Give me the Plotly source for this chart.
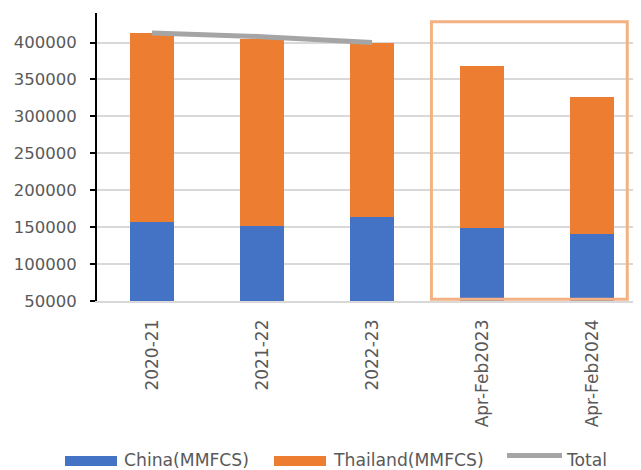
import plotly.graph_objects as go

categories = ["2020-21", "2021-22", "2022-23", "Apr-Feb2023", "Apr-Feb2024"]
china = [156600, 152000, 164200, 149300, 141200]
thailand = [256100, 252500, 235300, 218700, 185600]
total_categories = ["2020-21", "2021-22", "2022-23"]
total = [413000, 408000, 400000]
y_ticks = [50000, 100000, 150000, 200000, 250000, 300000, 350000, 400000]
series_names = ["China(MMFCS)", "Thailand(MMFCS)", "Total"]
series_colors = ["#4472c4", "#ed7d31", "#a5a5a5"]

FONT = "DejaVu Sans"
TXT = "#595959"
OFF = 8  # page body margin
W, H = 641 - OFF, 470 - OFF
L, R, T, B = 97 - OFF, 0, 13 - OFF, 169
PW, PH = W - L - R, H - T - B


def px(x):
    return (x - OFF - L) / PW


def py(y):
    return (H - B - (y - OFF)) / PH


fig = go.Figure()
fig.add_trace(go.Bar(x=categories, y=china, name=series_names[0],
                     marker=dict(color=series_colors[0], line=dict(width=0)), width=0.4))
fig.add_trace(go.Bar(x=categories, y=thailand, name=series_names[1],
                     marker=dict(color=series_colors[1], line=dict(width=0)), width=0.4))
fig.add_trace(go.Scatter(x=total_categories, y=total, name=series_names[2], mode="lines",
                         line=dict(color=series_colors[2], width=5)))

# highlight box
fig.add_shape(type="rect", xref="x", yref="y", x0=2.54, x1=4.32, y0=52300, y1=428000,
              line=dict(color="#f4b183", width=3), fillcolor="rgba(0,0,0,0)", layer="above")

# custom legend (Excel-like wide swatches)
leg_y = 459.5
fig.add_shape(type="rect", xref="paper", yref="paper", x0=px(65), x1=px(117),
              y0=py(466), y1=py(456), fillcolor=series_colors[0], line=dict(width=0))
fig.add_shape(type="rect", xref="paper", yref="paper", x0=px(274), x1=px(326),
              y0=py(466), y1=py(456), fillcolor=series_colors[1], line=dict(width=0))
fig.add_shape(type="line", xref="paper", yref="paper", x0=px(507), x1=px(562),
              y0=py(455.5), y1=py(455.5), line=dict(color=series_colors[2], width=5))
for name, x in zip(series_names, [122, 331, 564]):
    fig.add_annotation(text=name, xref="paper", yref="paper", x=px(x), y=py(leg_y),
                       xanchor="left", yanchor="middle", showarrow=False,
                       font=dict(family=FONT, size=17.2, color=TXT))

fig.update_layout(
    width=W, height=H,
    margin=dict(l=L, r=R, t=T, b=B),
    barmode="stack",
    plot_bgcolor="white", paper_bgcolor="white",
    font=dict(family=FONT, size=16.5, color=TXT),
    showlegend=False,
    xaxis=dict(type="category", range=[-0.5, 4.445], tickangle=-90, automargin=False,
               showline=True, linecolor="#d9d9d9", linewidth=1.5,
               ticks="", showgrid=False, ticklabelstandoff=10,
               tickfont=dict(family=FONT, size=17, color=TXT)),
    yaxis=dict(range=[50000, 440000], tickvals=y_ticks, automargin=False,
               ticktext=[str(v) for v in y_ticks],
               showline=True, linecolor="black", linewidth=2,
               ticks="outside", ticklen=5, tickcolor="black", tickwidth=1.5,
               ticklabelstandoff=10,
               showgrid=True, gridcolor="#d9d9d9", gridwidth=1.5,
               zeroline=False,
               tickfont=dict(family=FONT, size=16.5, color=TXT)),
)

fig.write_html("out.html")
